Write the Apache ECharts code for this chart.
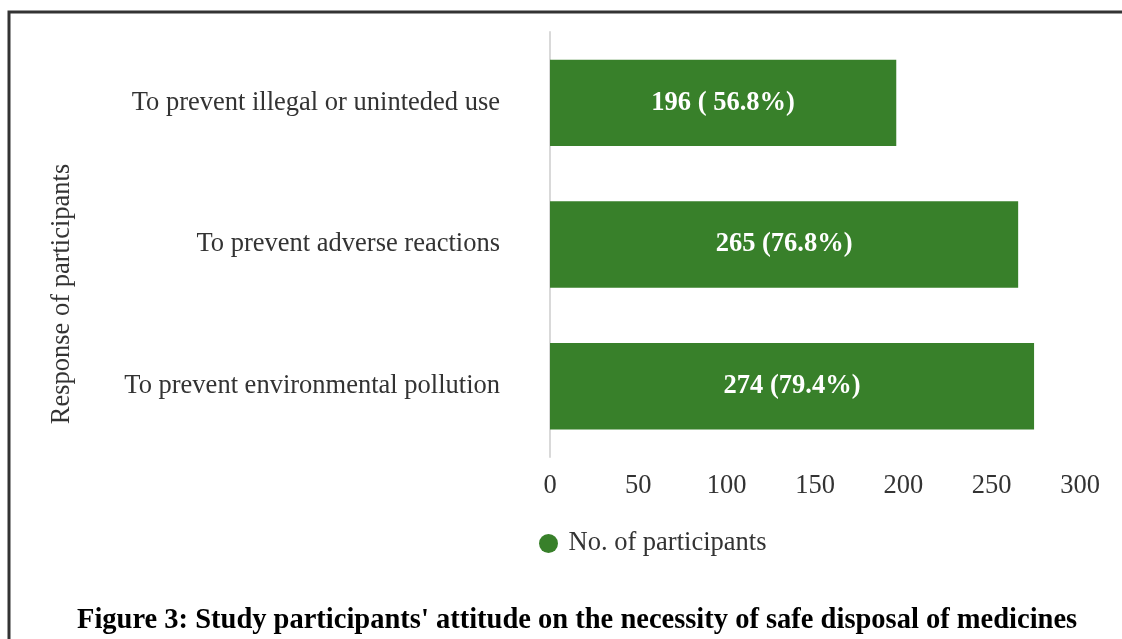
<!DOCTYPE html>
<html>
<head>
<meta charset="utf-8">
<script src="https://cdn.jsdelivr.net/npm/echarts@6/dist/echarts.min.js"></script>
<style>html,body{margin:0;padding:0;background:#fff;}#c{width:1122px;height:639px;}</style>
</head>
<body>
<div id="c"></div>
<script>
const categories = ['To prevent environmental pollution', 'To prevent adverse reactions', 'To prevent illegal or uninteded use'];
const counts = [274, 265, 196];
const barLabels = ['274 (79.4%)', '265 (76.8%)', '196 ( 56.8%)'];
const seriesName = 'No. of participants';
const axisName = 'Response of participants';
const titleText = "Figure 3: Study participants' attitude on the necessity of safe disposal of medicines";

const GREEN = '#38802A';
const FONT = '"Liberation Serif", "Times New Roman", serif';
const FS = 26.5;

const chart = echarts.init(document.getElementById('c'));
chart.setOption({
  animation: false,
  backgroundColor: '#fff',
  title: {
    text: titleText,
    left: 72, top: 601,
    textStyle: {fontFamily: FONT, fontSize: 28.5, fontWeight: 'bold', color: '#000'}
  },
  legend: {
    data: [seriesName],
    left: 534, top: 525,
    icon: 'circle', itemWidth: 30, itemHeight: 19,
    textStyle: {fontFamily: FONT, fontSize: FS, color: '#333'}
  },
  grid: {left: 550, top: 32, width: 530, height: 425},
  xAxis: {
    type: 'value', min: 0, max: 300, interval: 50,
    axisLine: {show: false}, axisTick: {show: false}, splitLine: {show: false},
    axisLabel: {fontFamily: FONT, fontSize: FS, color: '#333', margin: 16}
  },
  yAxis: {
    type: 'category', data: categories,
    axisLine: {show: true, lineStyle: {color: '#d9d9d9', width: 2}},
    axisTick: {show: false},
    axisLabel: {fontFamily: FONT, fontSize: FS, color: '#333', margin: 50, padding: [4, 0, 0, 0]}
  },
  series: [{
    name: seriesName, type: 'bar', data: counts,
    barCategoryGap: '39%',
    itemStyle: {color: GREEN},
    label: {
      show: true, position: 'inside',
      formatter: p => barLabels[p.dataIndex],
      fontFamily: FONT, fontSize: FS, fontWeight: 'bold', color: '#fff'
    }
  }],
  graphic: [{
    type: 'rect', silent: true, z: 100,
    shape: {x: 9, y: 12, width: 1130, height: 640},
    style: {fill: 'none', stroke: '#333', lineWidth: 3}
  }, {
    type: 'text', silent: true,
    x: 62, y: 294, rotation: Math.PI / 2,
    style: {text: axisName, fontFamily: FONT, fontSize: FS, fill: '#333', align: 'center', verticalAlign: 'middle'}
  }]
});
</script>
</body>
</html>
